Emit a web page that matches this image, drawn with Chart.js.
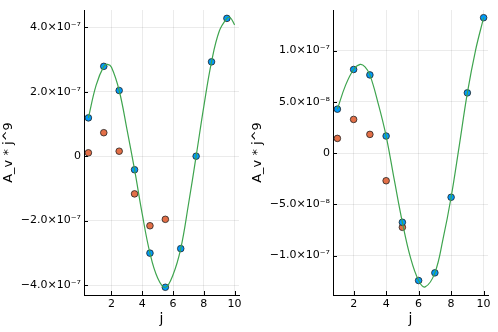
<!DOCTYPE html>
<html>
<head>
<meta charset="utf-8">
<script src="https://cdn.jsdelivr.net/npm/chart.js@4"></script>
<style>
  body { margin: 0; background: #fff; }
  .wrap { position: absolute; top: 0; width: 249px; height: 332px; }
</style>
</head>
<body>
<div class="wrap" style="left:0"><canvas id="plotLeft" width="249" height="332"></canvas></div>
<div class="wrap" style="left:249px"><canvas id="plotRight" width="249" height="332"></canvas></div>
<script>
// --- left panel: half-integer j ---
const leftJ = [0.5, 1.5, 2.5, 3.5, 4.5, 5.5, 6.5, 7.5, 8.5, 9.5];
const leftBlue = [1.19e-7, 2.79e-7, 2.04e-7, -0.42e-7, -3.01e-7, -4.07e-7, -2.87e-7, 0.0, 2.93e-7, 4.28e-7];
const leftOrangeJ = [0.5, 1.5, 2.5, 3.5, 4.5, 5.5];
const leftOrange = [0.105e-7, 0.73e-7, 0.155e-7, -1.17e-7, -2.16e-7, -1.96e-7];
const leftCurveJ = [0.5, 1.0, 1.5, 1.75, 2.0, 2.5, 3.0, 3.5, 4.0, 4.5, 5.0, 5.5, 6.0, 6.5, 7.0, 7.5, 8.0, 8.5, 9.0, 9.5, 9.7, 10.0];
const leftCurve = [1.19e-7, 2.2e-7, 2.79e-7, 2.85e-7, 2.76e-7, 2.04e-7, 0.85e-7, -0.42e-7, -1.8e-7, -3.01e-7, -3.78e-7, -4.07e-7, -3.68e-7, -2.87e-7, -1.5e-7, 0.0, 1.55e-7, 2.93e-7, 3.88e-7, 4.28e-7, 4.31e-7, 4.08e-7];
const leftYTicks = [-4e-7, -2e-7, 0, 2e-7, 4e-7];
const leftYLabels = ['\u22124.0\u00d710\u207b\u2077', '\u22122.0\u00d710\u207b\u2077', '0', '2.0\u00d710\u207b\u2077', '4.0\u00d710\u207b\u2077'];

// --- right panel: integer j ---
const rightJ = [1, 2, 3, 4, 5, 6, 7, 8, 9, 10];
const rightBlue = [4.28e-8, 8.15e-8, 7.62e-8, 1.66e-8, -6.75e-8, -12.43e-8, -11.68e-8, -4.31e-8, 5.87e-8, 13.2e-8];
const rightOrangeJ = [1, 2, 3, 4, 5];
const rightOrange = [1.43e-8, 3.28e-8, 1.82e-8, -2.7e-8, -7.24e-8];
const rightCurveJ = [1, 1.5, 2, 2.4, 2.7, 3, 3.5, 4, 4.5, 5, 5.5, 6, 6.4, 7, 7.5, 8, 8.5, 9, 9.5, 10];
const rightCurve = [4.28e-8, 6.6e-8, 8.15e-8, 8.64e-8, 8.4e-8, 7.62e-8, 4.9e-8, 1.66e-8, -2.6e-8, -6.75e-8, -10.2e-8, -12.43e-8, -13.05e-8, -11.68e-8, -8.4e-8, -4.31e-8, 0.7e-8, 5.87e-8, 10.0e-8, 13.2e-8];
const rightYTicks = [-1e-7, -5e-8, 0, 5e-8, 1e-7];
const rightYLabels = ['\u22121.0\u00d710\u207b\u2077', '\u22125.0\u00d710\u207b\u2078', '0', '5.0\u00d710\u207b\u2078', '1.0\u00d710\u207b\u2077'];

const xTicks = [2, 4, 6, 8, 10];
const xLabels = ['2', '4', '6', '8', '10'];

const FONT = "'DejaVu Sans', sans-serif";

// short tick marks pointing into the plot, like the reference
const innerTicks = {
    id: 'innerTicks',
    beforeDatasetsDraw(chart) {
        const ctx = chart.ctx;
        const area = chart.chartArea;
        ctx.save();
        ctx.strokeStyle = '#000';
        ctx.lineWidth = 1;
        ctx.beginPath();
        chart.scales.x.ticks.forEach((t, i) => {
            const px = Math.round(chart.scales.x.getPixelForTick(i)) + 0.5;
            ctx.moveTo(px, area.bottom);
            ctx.lineTo(px, area.bottom - 4);
        });
        chart.scales.y.ticks.forEach((t, i) => {
            const py = Math.round(chart.scales.y.getPixelForTick(i)) + 0.5;
            ctx.moveTo(area.left, py);
            ctx.lineTo(area.left + 4, py);
        });
        ctx.stroke();
        ctx.restore();
    }
};

function toPoints(xs, ys) {
    return xs.map((x, i) => ({ x: x, y: ys[i] }));
}

function makePlot(id, p) {
    new Chart(document.getElementById(id).getContext('2d'), {
        type: 'scatter',
        data: {
            datasets: [{
                type: 'line',
                data: toPoints(p.curveJ, p.curve),
                borderColor: '#3EA44E',
                borderWidth: 1.2,
                pointRadius: 0,
                tension: 0.4,
                order: 0
            }, {
                data: toPoints(p.j, p.blue),
                backgroundColor: '#009AFA',
                borderColor: '#222',
                borderWidth: 0.8,
                pointRadius: 3.3,
                order: 1
            }, {
                data: toPoints(p.orangeJ, p.orange),
                backgroundColor: '#E36F47',
                borderColor: '#222',
                borderWidth: 0.8,
                pointRadius: 3.3,
                order: 2
            }]
        },
        options: {
            responsive: false,
            animation: false,
            layout: { padding: { top: 10, right: 10, left: 0, bottom: 0 } },
            plugins: {
                legend: { display: false },
                tooltip: { enabled: false }
            },
            scales: {
                x: {
                    type: 'linear',
                    min: p.xMin,
                    max: p.xMax,
                    afterBuildTicks: axis => { axis.ticks = xTicks.map(v => ({ value: v })); },
                    afterFit: axis => { axis.height = 37; },
                    ticks: {
                        callback: (v, i) => xLabels[i],
                        font: { family: FONT, size: 11 },
                        color: '#000',
                        padding: 3,
                        maxRotation: 0,
                        autoSkip: false
                    },
                    grid: { color: 'rgba(0,0,0,0.08)', lineWidth: 1, drawTicks: false },
                    border: { display: true, color: '#000', width: 1 },
                    title: {
                        display: true,
                        text: 'j',
                        font: { family: FONT, size: 14 },
                        color: '#000',
                        padding: { top: 0, bottom: 4 }
                    }
                },
                y: {
                    min: p.yMin,
                    max: p.yMax,
                    afterBuildTicks: axis => { axis.ticks = p.yTicks.map(v => ({ value: v })); },
                    afterFit: axis => { axis.width = 84; },
                    ticks: {
                        callback: (v, i) => p.yLabels[i],
                        font: { family: FONT, size: 11 },
                        color: '#000',
                        padding: 3
                    },
                    grid: { color: 'rgba(0,0,0,0.08)', lineWidth: 1, drawTicks: false },
                    border: { display: true, color: '#000', width: 1 },
                    title: {
                        display: true,
                        text: 'A_v * j^9',
                        font: { family: FONT, size: 13 },
                        color: '#000',
                        padding: { top: 1, bottom: 0 }
                    }
                }
            }
        },
        plugins: [innerTicks]
    });
}

makePlot('plotLeft', {
    j: leftJ, blue: leftBlue, orangeJ: leftOrangeJ, orange: leftOrange,
    curveJ: leftCurveJ, curve: leftCurve,
    yTicks: leftYTicks, yLabels: leftYLabels,
    xMin: 0.215, xMax: 10.285, yMin: -4.31e-7, yMax: 4.54e-7
});

makePlot('plotRight', {
    j: rightJ, blue: rightBlue, orangeJ: rightOrangeJ, orange: rightOrange,
    curveJ: rightCurveJ, curve: rightCurve,
    yTicks: rightYTicks, yLabels: rightYLabels,
    xMin: 0.73, xMax: 10.27, yMin: -13.84e-8, yMax: 13.95e-8
});
</script>
</body>
</html>
